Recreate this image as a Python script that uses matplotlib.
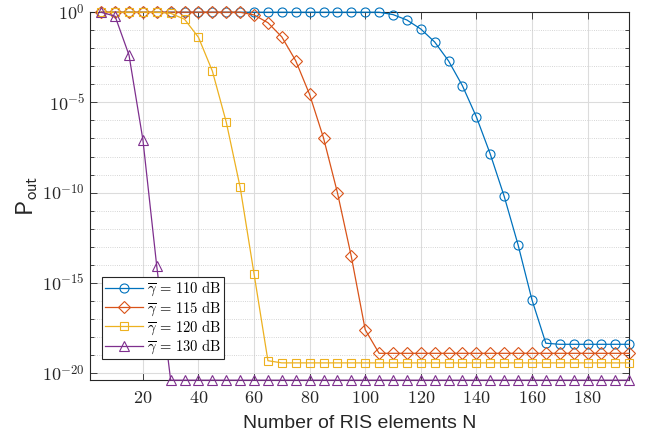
import numpy as np
import matplotlib
matplotlib.use('Agg')
from matplotlib import pyplot as plt
from matplotlib.ticker import FixedLocator, FuncFormatter, NullFormatter

plt.rcParams['mathtext.fontset'] = 'cm'
plt.rcParams['font.family'] = ['Liberation Sans', 'DejaVu Sans']

# number of RIS elements
N = np.arange(5, 200, 5)

# log10 of outage probability
logp_110 = [0]*21 + [-0.13, -0.43, -0.93, -1.65, -2.7, -4.08, -5.8, -7.86, -10.2,
                     -12.89, -15.94, -18.35] + [-18.41]*6
logp_115 = [0]*11 + [-0.15, -0.58, -1.37, -2.69, -4.56, -6.97, -10.0, -13.54, -17.6] \
    + [-18.91]*19
logp_120 = [0]*5 + [-0.06, -0.39, -1.39, -3.26, -6.09, -9.7, -14.5, -19.32] + [-19.44]*26
logp_130 = [0, -0.22, -2.37, -7.06, -14.09] + [-20.4]*34

labels = [r'$\overline{\gamma}\, =\, 110\ \mathrm{dB}$',
          r'$\overline{\gamma}\, =\, 115\ \mathrm{dB}$',
          r'$\overline{\gamma}\, =\, 120\ \mathrm{dB}$',
          r'$\overline{\gamma}\, =\, 130\ \mathrm{dB}$']
colors = ['#0072BD', '#D95319', '#EDB120', '#7E2F8E']
markers = ['o', 'D', 's', '^']
msizes = [6.5, 6, 6, 6.5]

fig = plt.figure(figsize=(6.48, 4.37), dpi=100)
ax = fig.add_axes([0.139, 0.130, 0.832, 0.842])

for lp, lab, c, m, ms in zip([logp_110, logp_115, logp_120, logp_130],
                             labels, colors, markers, msizes):
    ax.semilogy(N, 10.0**np.array(lp), color=c, marker=m, markersize=ms,
                markerfacecolor='none', markeredgewidth=0.8, linewidth=0.9,
                label=lab, clip_on=False, zorder=3)

ax.set_xlim(1, 195)
ax.set_ylim(10**-20.4, 1)

ax.xaxis.set_major_locator(FixedLocator(np.arange(20, 200, 20)))
ax.xaxis.set_major_formatter(FuncFormatter(lambda v, p: r'$%d$' % v))
ax.yaxis.set_major_locator(FixedLocator([1e-20, 1e-15, 1e-10, 1e-5, 1]))
ax.yaxis.set_major_formatter(FuncFormatter(
    lambda v, p: r'$10^{%d}$' % int(round(np.log10(v)))))
ax.yaxis.set_minor_locator(FixedLocator([10.0**k for k in range(-20, 1)]))
ax.yaxis.set_minor_formatter(NullFormatter())

ax.tick_params(which='both', direction='in', top=True, right=True,
               color='#262626', labelsize=13, labelcolor='#262626')
ax.tick_params(which='major', length=5, width=0.6)
ax.tick_params(which='minor', length=3, width=0.6)
ax.tick_params(axis='x', pad=7)

ax.grid(True, which='major', color='#dcdcdc', linewidth=0.8, linestyle='-')
ax.grid(True, which='minor', axis='y', color='#c8c8c8', linewidth=0.6, linestyle=':')
ax.set_axisbelow(True)
for s in ax.spines.values():
    s.set_color('#262626')
    s.set_linewidth(0.8)

ax.set_xlabel('Number of RIS elements N', fontsize=14, color='#262626', labelpad=6)
ax.set_ylabel(r'$\mathsf{P}_{\mathsf{out}}$', fontsize=17, color='#262626', labelpad=2)

leg = ax.legend(loc='lower left', bbox_to_anchor=(0.022, 0.057), fontsize=10.5,
                handlelength=2.6, handletextpad=0.3, borderpad=0.2,
                labelspacing=0.02, fancybox=False, framealpha=1,
                edgecolor='#262626', borderaxespad=0)
leg.get_frame().set_linewidth(0.8)

fig.savefig('out.png', dpi=100)
